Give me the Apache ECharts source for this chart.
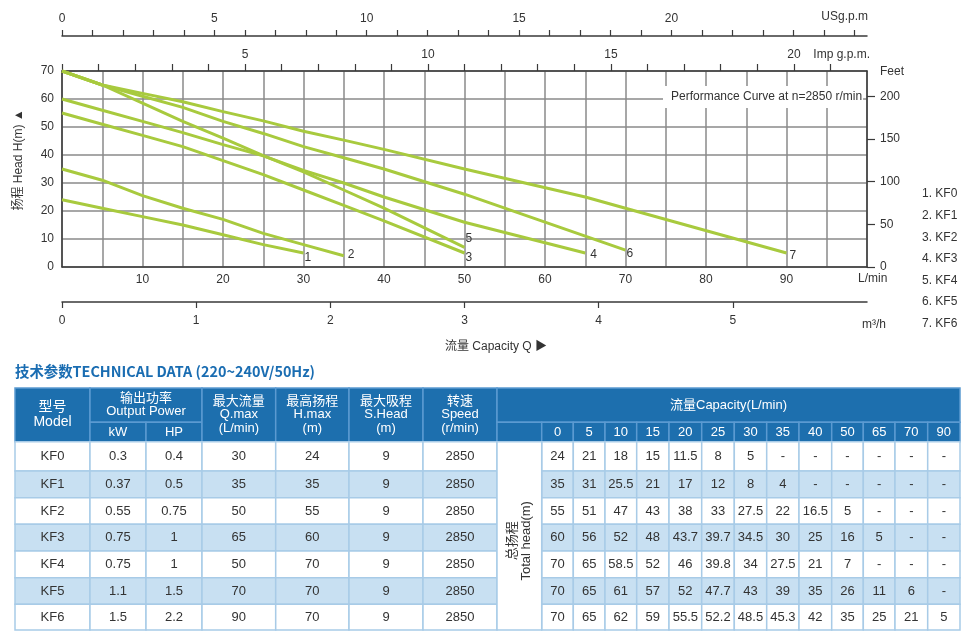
<!DOCTYPE html>
<html><head><meta charset="utf-8">
<script src="https://cdn.jsdelivr.net/npm/echarts@6/dist/echarts.min.js"></script>
<style>html,body{margin:0;padding:0;background:#fff}#c{width:969px;height:634px}</style>
</head><body><div id="c"></div>
<script>
// ---------------- data ----------------
const models = ['KF0', 'KF1', 'KF2', 'KF3', 'KF4', 'KF5', 'KF6'];
const powerKW = ['0.3', '0.37', '0.55', '0.75', '0.75', '1.1', '1.5'];
const powerHP = ['0.4', '0.5', '0.75', '1', '1', '1.5', '2.2'];
const qMax = [30, 35, 50, 65, 50, 70, 90];
const hMax = [24, 35, 55, 60, 70, 70, 70];
const sHead = [9, 9, 9, 9, 9, 9, 9];
const speed = [2850, 2850, 2850, 2850, 2850, 2850, 2850];
const capacity = [0, 5, 10, 15, 20, 25, 30, 35, 40, 50, 65, 70, 90];
const headKF0 = [24, 21, 18, 15, 11.5, 8, 5, null, null, null, null, null, null];
const headKF1 = [35, 31, 25.5, 21, 17, 12, 8, 4, null, null, null, null, null];
const headKF2 = [55, 51, 47, 43, 38, 33, 27.5, 22, 16.5, 5, null, null, null];
const headKF3 = [60, 56, 52, 48, 43.7, 39.7, 34.5, 30, 25, 16, 5, null, null];
const headKF4 = [70, 65, 58.5, 52, 46, 39.8, 34, 27.5, 21, 7, null, null, null];
const headKF5 = [70, 65, 61, 57, 52, 47.7, 43, 39, 35, 26, 11, 6, null];
const headKF6 = [70, 65, 62, 59, 55.5, 52.2, 48.5, 45.3, 42, 35, 25, 21, 5];
const heads = [headKF0, headKF1, headKF2, headKF3, headKF4, headKF5, headKF6];

// tick labels
const lpmTickLabels = [10, 20, 30, 40, 50, 60, 70, 80, 90];
const impTickLabels = [5, 10, 15, 20];
const usTickLabels = [0, 5, 10, 15, 20];
const m3hTickLabels = [0, 1, 2, 3, 4, 5];
const feetTickLabels = [0, 50, 100, 150, 200];

// table header texts
const leftHeaders = ['型号\nModel', '输出功率\nOutput Power', '最大流量\nQ.max\n(L/min)', '最高扬程\nH.max\n(m)', '最大吸程\nS.Head\n(m)', '转速\nSpeed\n(r/min)'];
const powerSubHeaders = ['kW', 'HP'];
const capacityHeader = '流量Capacity(L/min)';
const totalHeadLabel = '总扬程\nTotal head(m)';

// unit conversions (L/min per unit)
const L_PER_IMP = 4.54609, L_PER_US = 3.78541, L_PER_M3H = 1000 / 60, M_PER_FT = 0.3048;

// ---------------- layout / style ----------------
const FONT = '"Liberation Sans", "Noto Sans CJK SC", sans-serif';
const lineColor = '#a8ca3e';
const gridColor = '#8a8a8a';
const axisColor = '#3a3a3a';
const labelColor = '#333';
const endLabelLayout = [
  { d: 1, o: [0, 5] }, { d: 4, o: [0, -1] }, { d: 1, o: [0, 5] }, { d: 5, o: [0, 2] },
  { d: 1, o: [0, -9] }, { d: 1, o: [0, 3] }, { d: 3, o: [0, 3] }
];

// table geometry (relative to the table grid, px units)
const colEdges = [0, 75, 131, 187, 260.7, 334, 408, 482, 526.7, 558.3, 590, 621.7, 654, 686.7, 719.3, 751.7, 784, 816.7, 848.3, 880, 912.7, 945];
const rowEdges = [0, 34.3, 53.7, 83, 109.7, 136.3, 163, 189.7, 216.3, 242];
const cellStyles = {
  head: { fill: '#1d6fae', stroke: '#5b9ad1', lw: 1.5, color: '#ffffff' },
  body: { fill: '#ffffff', stroke: '#a8cbe7', lw: 1.5, color: '#333333' },
  alt: { fill: '#c8e0f2', stroke: '#a8cbe7', lw: 1.5, color: '#333333' }
};

// build table cells
const tableCells = [];
function addCell(c0, c1, r0, r1, text, kind, opts) {
  tableCells.push(Object.assign({ x0: colEdges[c0], x1: colEdges[c1], y0: rowEdges[r0], y1: rowEdges[r1], text: text, kind: kind }, opts || {}));
}
addCell(0, 1, 0, 2, leftHeaders[0], 'head', { size: 14, lh: 15 });
addCell(1, 3, 0, 1, leftHeaders[1], 'head', { lh: 13 });
addCell(1, 2, 1, 2, powerSubHeaders[0], 'head');
addCell(2, 3, 1, 2, powerSubHeaders[1], 'head');
for (let k = 2; k < 6; k++) addCell(k + 1, k + 2, 0, 2, leftHeaders[k], 'head', { lh: 13.5 });
addCell(7, 21, 0, 1, capacityHeader, 'head');
addCell(7, 8, 1, 2, '', 'head');
capacity.forEach((q, j) => addCell(8 + j, 9 + j, 1, 2, String(q), 'head'));
models.forEach((m, i) => {
  const kind = i % 2 ? 'alt' : 'body';
  const vals = [m, powerKW[i], powerHP[i], qMax[i], hMax[i], sHead[i], speed[i]];
  vals.forEach((v, k) => addCell(k, k + 1, 2 + i, 3 + i, String(v), kind));
  heads[i].forEach((v, j) => addCell(8 + j, 9 + j, 2 + i, 3 + i, v == null ? '-' : String(v), kind));
});
addCell(7, 8, 2, 9, totalHeadLabel, 'body', { rotate: true, lh: 14, dy: 5 });

// ---------------- series ----------------
const curveSeries = models.map((m, i) => {
  const pts = [];
  heads[i].forEach((h, j) => { if (h != null) pts.push([capacity[j], h]); });
  const data = pts.map((p, k) => k === pts.length - 1 ? {
    value: p,
    label: { show: true, formatter: String(i + 1), position: 'right', distance: endLabelLayout[i].d, offset: endLabelLayout[i].o, color: labelColor, fontSize: 12, fontFamily: FONT }
  } : { value: p });
  return {
    name: m, type: 'line', xAxisIndex: 0, yAxisIndex: 0, data: data,
    symbol: 'circle', symbolSize: 0, showSymbol: true, showAllSymbol: true,
    lineStyle: { color: lineColor, width: 3 }, itemStyle: { color: lineColor },
    label: { show: false }, z: 5, silent: true
  };
});

const tableSeries = {
  type: 'custom', xAxisIndex: 4, yAxisIndex: 2, clip: false, silent: true,
  data: tableCells.map(c => [c.x0, c.y0, c.x1, c.y1]),
  encode: { x: [0, 2], y: [1, 3] },
  renderItem: function (params, api) {
    const c = tableCells[params.dataIndex];
    const st = cellStyles[c.kind];
    const p0 = api.coord([api.value(0), api.value(1)]);
    const p1 = api.coord([api.value(2), api.value(3)]);
    const w = p1[0] - p0[0], h = p1[1] - p0[1];
    const size = c.size || 13;
    return {
      type: 'group',
      children: [
        { type: 'rect', shape: { x: p0[0], y: p0[1], width: w, height: h }, style: { fill: st.fill, stroke: st.stroke, lineWidth: st.lw } },
        {
          type: 'text', x: p0[0] + w / 2, y: p0[1] + h / 2 + (c.dy || 0), rotation: c.rotate ? Math.PI / 2 : 0,
          style: { text: c.text, fill: st.color, font: size + 'px ' + FONT, align: 'center', verticalAlign: 'middle', lineHeight: c.lh || size + 2 }
        }
      ]
    };
  }
};

const lbl = (list, margin, extra) => Object.assign({
  color: labelColor, fontSize: 12, fontFamily: FONT, margin: margin,
  formatter: v => { const t = list.find(t => Math.abs(t - v) < 1e-6); return t === undefined ? '' : String(t); }
}, extra || {});
const darkLine = () => ({ show: true, onZero: false, lineStyle: { color: axisColor, width: 1.5 } });
const outTick = len => ({ show: true, inside: false, length: len, lineStyle: { color: axisColor, width: 1.2 } });

const option = {
  animation: false,
  backgroundColor: '#fff',
  grid: [
    { left: 62, top: 71, width: 805, height: 196 },
    { left: 15, top: 388, width: 945, height: 242 }
  ],
  xAxis: [
    { type: 'value', gridIndex: 0, position: 'bottom', min: 0, max: 100, interval: 5,
      axisLine: darkLine(), axisTick: { show: false }, axisLabel: lbl(lpmTickLabels, 7),
      splitLine: { show: true, lineStyle: { color: gridColor, width: 1.5 } } },
    { type: 'value', gridIndex: 0, position: 'top', min: 0, max: 100 / L_PER_IMP, interval: 1,
      axisLine: darkLine(), axisTick: outTick(7),
      axisLabel: lbl(impTickLabels, 10, { showMaxLabel: false }), splitLine: { show: false } },
    { type: 'value', gridIndex: 0, position: 'top', offset: 35, min: 0, max: 100 / L_PER_US, interval: 1,
      axisLine: darkLine(), axisTick: outTick(6),
      axisLabel: lbl(usTickLabels, 11, { showMaxLabel: false }), splitLine: { show: false } },
    { type: 'value', gridIndex: 0, position: 'bottom', offset: 35, min: 0, max: 100 / L_PER_M3H, interval: 1,
      axisLine: darkLine(), axisTick: outTick(6),
      axisLabel: lbl(m3hTickLabels, 13, { showMaxLabel: false }), splitLine: { show: false } },
    { type: 'value', gridIndex: 1, min: 0, max: 945, show: false }
  ],
  yAxis: [
    { type: 'value', gridIndex: 0, position: 'left', min: 0, max: 70, interval: 10,
      axisLine: darkLine(), axisTick: { show: false },
      axisLabel: { color: labelColor, fontSize: 12, fontFamily: FONT, margin: 8 },
      splitLine: { show: true, lineStyle: { color: gridColor, width: 1.5 } } },
    { type: 'value', gridIndex: 0, position: 'right', min: 0, max: 70 / M_PER_FT, interval: 50,
      axisLine: darkLine(), axisTick: outTick(8),
      axisLabel: lbl(feetTickLabels, 13, { showMaxLabel: false }), splitLine: { show: false } },
    { type: 'value', gridIndex: 1, min: 0, max: 242, inverse: true, show: false }
  ],
  legend: {
    orient: 'vertical', left: 917, top: 187, padding: 0,
    icon: 'rect', itemWidth: 0, itemHeight: 14, itemGap: 7.6, selectedMode: false,
    data: models,
    formatter: name => (models.indexOf(name) + 1) + '. ' + name,
    textStyle: { color: labelColor, fontSize: 12, fontFamily: FONT }
  },
  graphic: [
    { type: 'text', x: 19, y: 160, rotation: Math.PI / 2, z: 10,
      style: { text: '扬程 Head H(m) ▲', font: '12px ' + FONT, fill: labelColor, align: 'center', verticalAlign: 'middle' } },
    { type: 'text', x: 496, y: 347, z: 10,
      style: { text: '流量 Capacity Q ▶', font: '12px ' + FONT, fill: labelColor, align: 'center', verticalAlign: 'middle' } },
    { type: 'text', x: 858, y: 279, z: 10,
      style: { text: 'L/min', font: '12px ' + FONT, fill: labelColor, align: 'left', verticalAlign: 'middle' } },
    { type: 'text', x: 862, y: 325, z: 10,
      style: { text: 'm³/h', font: '12px ' + FONT, fill: labelColor, align: 'left', verticalAlign: 'middle' } },
    { type: 'text', x: 880, y: 72, z: 10,
      style: { text: 'Feet', font: '12px ' + FONT, fill: labelColor, align: 'left', verticalAlign: 'middle' } },
    { type: 'text', x: 868, y: 17, z: 10,
      style: { text: 'USg.p.m', font: '12px ' + FONT, fill: labelColor, align: 'right', verticalAlign: 'middle' } },
    { type: 'text', x: 870, y: 55, z: 10,
      style: { text: 'Imp g.p.m.', font: '12px ' + FONT, fill: labelColor, align: 'right', verticalAlign: 'middle' } },
    { type: 'text', x: 663, y: 97, z: 10,
      style: { text: 'Performance Curve at n=2850 r/min', font: '12px ' + FONT, fill: labelColor, align: 'left', verticalAlign: 'middle',
        backgroundColor: '#fff', padding: [5, 1, 5, 8] } },
    { type: 'text', x: 15, y: 372, z: 10,
      style: { text: '技术参数TECHNICAL DATA (220~240V/50Hz)', font: 'bold 14.4px "Noto Sans CJK SC", sans-serif', fill: '#1a6db2', align: 'left', verticalAlign: 'middle' } }
  ],
  series: curveSeries.concat([tableSeries])
};

const chart = echarts.init(document.getElementById('c'), null, { renderer: 'canvas' });
chart.setOption(option);
</script>
</body></html>
